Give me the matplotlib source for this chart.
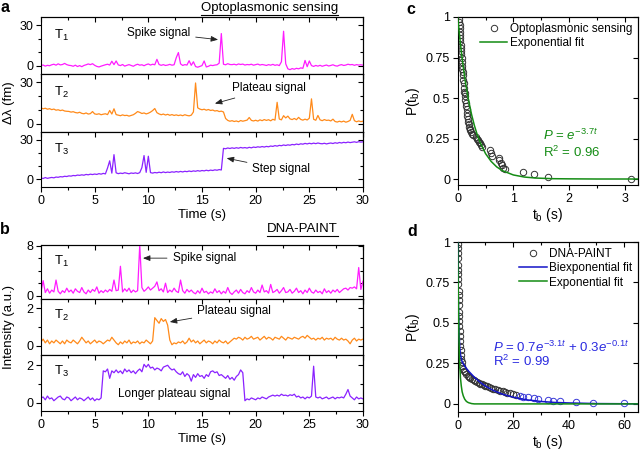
import numpy as np
import matplotlib
matplotlib.use("Agg")
import matplotlib.pyplot as plt
from matplotlib.lines import Line2D

plt.rcParams["font.family"] = ["Liberation Sans", "DejaVu Sans"]
plt.rcParams["mathtext.fontset"] = "custom"
plt.rcParams["mathtext.rm"] = "Liberation Sans"
plt.rcParams["mathtext.it"] = "Liberation Sans:italic"
plt.rcParams["mathtext.bf"] = "Liberation Sans:bold"
plt.rcParams["font.size"] = 9
plt.rcParams["axes.linewidth"] = 0.8

# time grid of the traces (s), 0.2 s steps
time = np.linspace(0, 30, 151)

# panel a: optoplasmonic traces, delta lambda (fm)
opto_t1 = [0.3, 0.6, -0.2, 0.4, 0.1, 0.8, 1.2, 0.5, 1.5, 0.7,
           1.0, 1.8, 0.9, 0.4, 0.2, -0.3, 0.5, -0.5, 0.2, -0.6,
           0.3, 0.8, 1.4, 0.9, 1.6, 0.4, -0.4, -0.8, -0.2, 0.3,
           0.8, 1.2, 0.6, 3.4, 0.9, 3.6, 0.7, 0.2, 1.0, -0.2,
           0.4, 0.9, 0.3, -0.3, 0.6, 1.2, 0.5, 0.8, 0.1, 0.9,
           1.4, 0.6, 1.2, 0.8, 4.8, 1.0, 0.4, 0.9, 0.3, 0.6,
           1.1, 0.5, 0.8, 6.0, 9.8, 1.5, 0.3, 0.9, 0.6, 3.8,
           0.4, 3.0, -0.5, -1.0, -0.4, 0.2, 3.6, -0.8, -0.3, 0.5,
           0.2, 0.6, 0.8, 2.0, 23.8, 1.2, 0.8, 1.6, 1.0, 0.9,
           1.2, 0.7, 1.4, 1.0, 1.3, 0.6, 1.0, 0.8, 1.2, 0.5,
           0.9, 1.3, 0.6, 1.0, 0.7, 0.3, 0.9, 0.5, 1.1, 0.4,
           0.8, 0.2, 3.0, 25.5, 1.5, -2.2, -2.8, -2.0, -2.5, -1.8,
           -2.2, -1.5, -1.8, 4.0, -0.6, 3.6, 0.2, -0.4, 0.3, -0.2,
           0.4, -0.3, 0.2, 0.6, -0.1, 0.3, 0.8, 0.1, -0.2, 0.5,
           0.9, 0.3, 0.6, 1.2, 0.8, 1.0, 0.4, 0.9, 0.6, 0.8, 0.5]
opto_t2 = [11.5, 10.8, 11.2, 10.5, 10.9, 10.2, 10.6, 9.8, 10.1, 9.5,
           9.9, 9.2, 9.0, 8.9, 8.4, 8.7, 8.1, 7.8, 8.3, 7.5,
           7.2, 7.8, 7.0, 7.3, 8.8, 7.1, 6.8, 7.2, 6.5, 6.9,
           7.2, 6.6, 9.6, 7.0, 10.8, 6.6, 6.2, 5.8, 6.4, 5.9,
           6.1, 5.5, 6.0, 6.5, 7.5, 8.8, 8.2, 7.4, 7.8, 7.1,
           7.6, 8.4, 9.5, 11.0, 8.0, 7.1, 6.5, 7.0, 6.3, 6.8,
           6.1, 6.6, 6.0, 6.4, 5.9, 6.3, 5.8, 6.5, 6.0, 5.7,
           6.2, 8.5, 29.5, 11.5, 10.6, 10.1, 10.5, 9.8, 10.3, 9.6,
           9.9, 9.2, 9.5, 8.8, 9.1, 8.5, 3.8, 2.4, 1.8, 2.2,
           1.6, 2.0, 1.4, 2.3, 1.8, 2.2, 2.6, 4.5, 2.4, 2.0,
           2.5, 1.9, 2.8, 2.2, 3.0, 2.4, 2.9, 2.1, 3.2, 2.6,
           15.5, 3.4, 2.8, 5.8, 4.2, 5.5, 3.5, 3.0, 3.8, 2.9,
           4.6, 3.1, 2.6, 3.3, 2.7, 4.0, 18.0, 3.2, 2.5, 6.0,
           2.8, 2.2, 3.0, 2.4, 2.6, 2.0, 3.3, 1.6, 1.2, 1.8,
           1.3, 1.9, 1.1, 1.6, 2.4, 6.8, 2.2, 1.4, 2.0, 1.5, 1.8]
opto_t3 = [0.8, 0.5, 1.2, 0.6, 1.0, 1.3, 1.0, 1.6, 1.4, 1.9,
           1.7, 2.2, 2.0, 2.5, 2.3, 2.8, 2.6, 3.1, 2.9, 3.3,
           3.0, 3.6, 3.3, 3.8, 3.5, 3.9, 3.6, 4.2, 3.8, 4.4,
           4.0, 8.5, 14.0, 4.6, 18.7, 4.8, 4.2, 4.6, 4.3, 4.9,
           4.5, 4.1, 4.7, 4.4, 4.8, 4.3, 5.0, 8.8, 18.0, 5.2,
           17.5, 5.0, 4.6, 5.1, 4.8, 5.3, 4.9, 5.5, 5.0, 5.4,
           5.1, 5.6, 5.3, 5.8, 5.4, 5.9, 5.5, 6.0, 5.7, 6.2,
           5.8, 6.3, 6.0, 6.5, 6.1, 6.6, 6.3, 6.8, 6.4, 6.9,
           6.6, 7.1, 6.8, 7.3, 7.0, 23.5, 23.2, 23.8, 23.4, 23.9,
           23.5, 24.0, 23.6, 24.2, 23.8, 24.1, 23.7, 24.3, 23.9, 24.5,
           24.2, 24.7, 24.4, 24.9, 24.5, 25.0, 24.7, 25.3, 25.0, 25.6,
           25.2, 25.8, 25.5, 26.1, 25.7, 26.2, 25.9, 26.5, 26.2, 26.8,
           26.4, 27.0, 26.7, 27.3, 26.9, 27.4, 27.0, 27.5, 27.1, 27.6,
           27.2, 27.0, 27.4, 26.9, 27.3, 27.6, 27.2, 27.8, 27.4, 28.0,
           27.6, 28.1, 27.8, 28.3, 27.9, 28.2, 28.5, 28.1, 28.6, 28.3, 28.5]

# panel b: DNA-PAINT traces, intensity (a.u.)
paint_t1 = [0.6, 2.4, 0.5, 1.1, 0.4, 0.9, 0.6, 2.5, 0.7, 0.3,
            0.8, 0.5, 1.2, 0.6, 0.9, 0.4, 1.1, 0.7, 0.5, 1.3,
            0.6, 0.3, 0.9, 0.5, 1.0, 0.7, 1.4, 0.4, 0.8, 0.5,
            0.9, 0.6, 1.0, 0.7, 2.5, 0.8, 0.9, 4.7, 0.6, 1.1,
            0.7, 1.2, 0.5, 0.9, 0.6, 0.8, 8.1, 1.3, 0.7, 1.0,
            1.4, 0.9, 1.2, 1.5, 2.2, 0.8, 1.1, 0.6, 2.0, 0.5,
            0.9, 0.6, 1.2, 0.7, 0.5, 2.5, 0.8, 0.4, 1.0, 0.6,
            0.9, 0.5, 0.3, 0.8, 0.4, 1.2, 0.5, 0.7, 0.3, 0.6,
            0.4, 1.1, 0.5, 0.8, 0.3, 0.7, 0.4, 1.3, 0.5, 0.2,
            0.6, 0.9, 0.4, 1.0, 0.5, 0.3, 0.8, 0.5, 1.3, 0.6,
            0.4, 0.9, 0.5, 1.7, 0.6, 0.8, 0.4, 1.8, 0.5, 0.7,
            1.0, 0.4, 0.8, 1.3, 0.5, 0.6, 1.0, 0.4, 0.7, 1.2,
            0.5, 0.8, 0.3, 0.9, 0.5, 1.2, 0.6, 0.4, 0.9, 0.5,
            0.7, 0.3, 1.1, 0.5, 0.8, 0.4, 0.9, 0.6, 1.0, 0.5,
            0.8, 1.1, 1.2, 0.9, 1.3, 1.2, 1.4, 1.1, 4.5, 1.0, 2.3]
paint_t2 = [0.2, 0.35, 0.15, 0.3, 0.1, 0.25, 0.15, 0.3, 0.2, 0.1,
            0.25, 0.1, 0.3, 0.2, 0.15, 0.3, 0.2, 0.1, 0.25, 0.45,
            0.3, 0.15, 0.25, 0.1, 0.2, 0.3, 0.15, 0.25, 0.2, 0.1,
            0.2, 0.3, 0.25, 0.45, 0.3, 0.15, 0.05, 0.2, 0.1, 0.25,
            0.15, 0.3, 0.1, 0.2, 0.15, 0.25, 0.1, 0.2, 0.15, 0.3,
            0.2, 0.1, 0.25, 1.5, 1.35, 1.2, 1.45, 1.3, 1.4, 1.1,
            0.3, 0.05, 0.15, 0.1, 0.2, 0.15, 0.25, 0.1, 0.2, 0.4,
            0.2, 0.3, 0.15, 0.25, 0.1, 0.2, 0.3, 0.15, 0.25, 0.2,
            0.1, 0.25, 0.15, 0.3, 0.2, 0.15, 0.25, 0.1, 0.2, 0.3,
            0.4, 0.35, 0.45, 0.4, 0.3, 0.45, 0.35, 0.4, 0.5, 0.35,
            0.4, 0.45, 0.3, 0.4, 0.5, 0.35, 0.45, 0.4, 0.3, 0.45,
            0.4, 0.35, 0.5, 0.4, 0.3, 0.45, 0.4, 0.35, 0.45, 0.4,
            0.35, 0.45, 0.5, 0.4, 0.55, 0.45, 0.35, 0.4, 0.3, 0.4,
            0.35, 0.45, 0.3, 0.4, 0.35, 0.4, 0.3, 0.45, 0.35, 0.3,
            0.4, 0.3, 0.35, 0.25, 0.1, 0.3, 0.4, 0.25, 0.35, 0.3, 0.35]
paint_t3 = [0.25, 0.3, 0.15, 0.35, 0.2, 0.25, 0.1, 0.2, 0.3, 0.35,
            0.2, 0.15, 0.3, 0.25, 0.1, 0.2, 0.3, 0.15, 0.25, 0.2,
            0.1, 0.2, 0.3, 0.15, 0.25, 0.1, 0.2, 0.15, 0.25, 1.7,
            1.65, 1.8, 1.3, 1.7, 1.6, 1.75, 1.6, 1.7, 1.55, 1.8,
            1.65, 1.75, 1.6, 1.7, 1.55, 1.7, 1.8, 1.65, 2.05, 1.9,
            2.05, 1.85, 1.9, 1.75, 1.85, 1.8, 1.7, 1.9, 1.95, 2.0,
            1.85, 1.75, 1.8, 1.65, 1.55, 1.5, 1.65, 1.4, 1.55, 1.45,
            1.15, 1.5, 1.35, 1.55, 1.4, 1.45, 1.3, 1.5, 1.4, 1.65,
            1.7, 1.6, 1.65, 1.45, 1.5, 1.4, 1.3, 1.45, 1.25, 1.35,
            1.2, 1.4, 1.5, 1.75, 1.6, 0.1, 0.2, 0.15, 0.25, 0.2,
            0.15, 0.25, 0.2, 0.3, 0.25, 0.2, 0.3, 0.35, 0.4, 0.35,
            0.4, 0.35, 0.45, 0.38, 0.4, 0.35, 0.42, 0.38, 0.45, 0.3,
            0.35, 0.25, 0.3, 0.2, 0.3, 0.25, 0.35, 1.95, 0.3, 0.25,
            0.3, 0.2, 0.25, 0.3, 0.2, 0.25, 0.3, 0.2, 0.28, 0.25,
            0.3, 0.25, 0.45, 0.7, 0.35, 0.25, 0.15, 0.3, 0.2, 0.25, 0.2]

# panel c: optoplasmonic binding-time survival
opto_tb = [0.03, 0.03, 0.035, 0.04, 0.04, 0.045, 0.05, 0.05, 0.055, 0.06,
           0.06, 0.065, 0.07, 0.075, 0.08, 0.085, 0.09, 0.095, 0.10, 0.105,
           0.11, 0.12, 0.13, 0.135, 0.14, 0.15, 0.155, 0.16, 0.17, 0.175,
           0.18, 0.19, 0.20, 0.21, 0.22, 0.23, 0.24, 0.26, 0.28, 0.32,
           0.34, 0.36, 0.38, 0.40, 0.42, 0.43, 0.58, 0.60, 0.62, 0.74,
           0.75, 0.77, 0.79, 0.82, 0.85, 1.17, 1.37, 1.62, 3.12]
opto_p = [0.99, 0.97, 0.95, 0.93, 0.91, 0.89, 0.87, 0.85, 0.83, 0.81,
          0.79, 0.77, 0.75, 0.72, 0.70, 0.68, 0.66, 0.64, 0.61, 0.59,
          0.56, 0.54, 0.53, 0.51, 0.49, 0.47, 0.45, 0.43, 0.41, 0.39,
          0.37, 0.35, 0.34, 0.32, 0.31, 0.30, 0.29, 0.28, 0.27, 0.26,
          0.25, 0.24, 0.23, 0.22, 0.21, 0.195, 0.18, 0.16, 0.145, 0.13,
          0.115, 0.10, 0.085, 0.07, 0.06, 0.045, 0.03, 0.015, 0.0]
opto_fit_t = [0, 0.025, 0.05, 0.075, 0.1, 0.125, 0.15, 0.2, 0.25, 0.3, 0.35, 0.4,
              0.5, 0.6, 0.7, 0.8, 1.0, 1.2, 1.4, 1.7, 2.0, 2.5, 3.25]
opto_fit_p = [1.0, 0.912, 0.831, 0.758, 0.691, 0.630, 0.574, 0.477, 0.397, 0.330, 0.274,
              0.228, 0.157, 0.109, 0.075, 0.052, 0.025, 0.012, 0.006, 0.002, 0.001, 0.0, 0.0]

# panel d: DNA-PAINT binding-time survival
paint_tb = [0.05, 0.08, 0.1, 0.12, 0.15, 0.18, 0.2, 0.23, 0.26, 0.3,
            0.33, 0.37, 0.4, 0.45, 0.5, 0.55, 0.6, 0.67, 0.75, 0.85,
            0.95, 1.05, 1.2, 1.35, 1.5, 1.7, 2.0, 2.3, 2.7, 3.1,
            3.6, 4.1, 4.6, 5.2, 5.8, 6.4, 7.0, 7.6, 8.2, 8.8,
            9.4, 10.0, 10.7, 11.4, 12.1, 12.8, 13.6, 14.4, 15.3, 16.2,
            17.0, 17.8, 18.8, 19.8, 21.0, 22.3, 23.7, 25.5, 27.4, 29.0,
            32.4, 34.3, 36.8, 42.8, 48.7, 59.8]
paint_p = [0.99, 0.96, 0.93, 0.90, 0.86, 0.83, 0.80, 0.77, 0.74, 0.70,
           0.67, 0.64, 0.61, 0.57, 0.54, 0.51, 0.48, 0.45, 0.42, 0.39,
           0.36, 0.33, 0.30, 0.28, 0.26, 0.235, 0.215, 0.205, 0.195, 0.185,
           0.175, 0.168, 0.16, 0.152, 0.145, 0.14, 0.135, 0.13, 0.126, 0.122,
           0.117, 0.113, 0.108, 0.103, 0.098, 0.094, 0.089, 0.085, 0.081, 0.077,
           0.073, 0.069, 0.065, 0.06, 0.055, 0.05, 0.045, 0.04, 0.034, 0.03,
           0.024, 0.02, 0.017, 0.012, 0.008, 0.003]
biexp_t = [0, 0.1, 0.2, 0.3, 0.5, 0.75, 1.0, 1.5, 2, 3, 4, 6, 8, 10, 13, 16,
           20, 25, 30, 35, 40, 50, 65]
biexp_p = [1.0, 0.810, 0.671, 0.567, 0.434, 0.346, 0.303, 0.265, 0.247, 0.222,
           0.201, 0.165, 0.135, 0.110, 0.082, 0.061, 0.041, 0.025, 0.015, 0.009,
           0.006, 0.002, 0.0005]
mono_t = [0, 0.2, 0.4, 0.6, 0.8, 1.0, 1.3, 1.6, 2.0, 2.5, 3.0, 3.5, 4.0, 5.0, 6.0, 65]
mono_p = [1.0, 0.68, 0.47, 0.30, 0.22, 0.16, 0.11, 0.075, 0.05, 0.03, 0.018,
          0.011, 0.007, 0.002, 0.0, 0.0]

prob_ticks = [0, 0.25, 0.5, 0.75, 1]
prob_labels = ["0", "0.25", "0.5", "0.75", "1"]

MAGENTA = "#ff1cff"
ORANGE = "#ff8a1a"
PURPLE = "#8a22ff"
GREEN = "#148c14"
BLUE = "#1414c8"
BLUE_TXT = "#2a2ae0"
W, H = 640, 451


def frame(ax, xmaj, xmin, ymaj, ymin, xlabels=True):
    ax.set_xticks(xmaj)
    ax.set_xticks(xmin, minor=True)
    ax.set_yticks(ymaj)
    ax.set_yticks(ymin, minor=True)
    ax.tick_params(which="both", direction="out", width=0.8, labelsize=9,
                   labelbottom=xlabels, pad=2)
    ax.tick_params(which="major", length=3.5)
    ax.tick_params(which="minor", length=2)
    top = ax.secondary_xaxis("top")
    top.set_xticks(xmaj)
    top.set_xticks(xmin, minor=True)
    top.tick_params(which="both", direction="in", labeltop=False, width=0.8)
    top.tick_params(which="major", length=3.5)
    top.tick_params(which="minor", length=2)
    right = ax.secondary_yaxis("right")
    right.set_yticks(ymaj)
    right.set_yticks(ymin, minor=True)
    right.tick_params(which="both", direction="in", labelright=False, width=0.8)
    right.tick_params(which="major", length=3.5)
    right.tick_params(which="minor", length=2)


def rect(x0, y0, x1, y1):
    return [x0 / W, 1 - y1 / H, (x1 - x0) / W, (y1 - y0) / H]


fig = plt.figure(figsize=(6.4, 4.51), dpi=100)

xt = [0, 5, 10, 15, 20, 25, 30]
xm = [2.5, 7.5, 12.5, 17.5, 22.5, 27.5]

# ---- panel a ----
a_rows = [(17, 74), (74, 132), (132, 187)]
a_data = [opto_t1, opto_t2, opto_t3]
a_cols = [MAGENTA, ORANGE, PURPLE]
a_axes = []
for i, (y0, y1) in enumerate(a_rows):
    ax = fig.add_axes(rect(41, y0, 363, y1))
    ax.plot(time, a_data[i], color=a_cols[i], lw=0.9)
    ax.set_xlim(0, 30)
    ax.set_ylim(-6, 36)
    frame(ax, xt, xm, [0, 30], [10, 20], xlabels=(i == 2))
    ax.text(0.04, 0.68, "T$_%d$" % (i + 1), transform=ax.transAxes,
            ha="left", va="center", fontsize=9.5)
    a_axes.append(ax)
a_axes[1].set_ylabel("Δλ (fm)", fontsize=9.5, labelpad=3)
a_axes[2].set_xlabel("Time (s)", fontsize=9.5, labelpad=2)

arr = dict(arrowstyle="-|>,head_length=0.5,head_width=0.2", color="#222222",
           lw=0.6, shrinkA=2, shrinkB=0)
a_axes[0].annotate("Spike signal", xy=(16.5, 19.3), xytext=(10.95, 24.3),
                   ha="center", va="center", fontsize=8.5, arrowprops=arr)
a_axes[1].annotate("Plateau signal", xy=(16.2, 14.6), xytext=(21.25, 25.5),
                   ha="center", va="center", fontsize=8.5, arrowprops=arr)
a_axes[2].annotate("Step signal", xy=(17.3, 16.0), xytext=(22.4, 7.4),
                   ha="center", va="center", fontsize=8.5, arrowprops=arr)

# ---- panel b ----
b_rows = [(245, 299), (299, 355), (355, 411)]
b_data = [paint_t1, paint_t2, paint_t3]
b_lims = [(-0.53, 8.1), (-0.5, 2.5), (-0.45, 2.55)]
b_maj = [[0, 8], [0, 2], [0, 2]]
b_min = [[2, 4, 6], [1], [1]]
b_axes = []
for i, (y0, y1) in enumerate(b_rows):
    ax = fig.add_axes(rect(41, y0, 363, y1))
    ax.plot(time, b_data[i], color=a_cols[i], lw=0.9)
    ax.set_xlim(0, 30)
    ax.set_ylim(*b_lims[i])
    frame(ax, xt, xm, b_maj[i], b_min[i], xlabels=(i == 2))
    ax.text(0.04, 0.70, "T$_%d$" % (i + 1), transform=ax.transAxes,
            ha="left", va="center", fontsize=9.5)
    b_axes.append(ax)
b_axes[1].set_ylabel("Intensity (a.u.)", fontsize=9.5, labelpad=8)
b_axes[2].set_xlabel("Time (s)", fontsize=9.5, labelpad=2)
b_axes[0].annotate("Spike signal", xy=(9.5, 6.0), xytext=(15.2, 6.0),
                   ha="center", va="center", fontsize=8.5, arrowprops=arr)
b_axes[1].annotate("Plateau signal", xy=(12.0, 1.27), xytext=(18.0, 1.86),
                   ha="center", va="center", fontsize=8.5, arrowprops=arr)
b_axes[2].text(12.4, 0.47, "Longer plateau signal", ha="center", va="center",
               fontsize=8.5)

# ---- panel c ----
axc = fig.add_axes(rect(457.7, 17, 638, 185))
axc.plot(opto_tb, opto_p, "o", mfc="none", mec="#333333", ms=4.6, mew=0.7,
         label="Optoplasmonic sensing", zorder=2)
axc.plot(opto_fit_t, opto_fit_p, color=GREEN, lw=1.1, label="Exponential fit", zorder=3)
axc.set_xlim(0, 3.24)
axc.set_ylim(-0.037, 1.0)
frame(axc, [0, 1, 2, 3], [0.5, 1.5, 2.5], prob_ticks, [])
axc.set_yticklabels(prob_labels)
axc.set_xlabel("t$_\\mathregular{b}$ (s)", fontsize=10, labelpad=1)
axc.set_ylabel("P(t$_\\mathregular{b}$)", fontsize=10, labelpad=3)
axc.legend(loc="upper right", frameon=False, fontsize=8.5, handlelength=2.3,
           handletextpad=0.2, labelspacing=0.15, borderaxespad=0.2, borderpad=0.3)
axc.text(1.53, 0.27, "$P$ = $e^{-3.7t}$", color=GREEN, fontsize=9.5, va="center")
axc.text(1.53, 0.165, "R$^2$ = 0.96", color=GREEN, fontsize=9.5, va="center")

# ---- panel d ----
axd = fig.add_axes(rect(457.7, 242, 638, 412))
tb = np.array(paint_tb)
pp = np.array(paint_p)
early = tb <= 22
axd.plot(tb[early], pp[early], "o", mfc="none", mec="#333333", ms=4.6, mew=0.7,
         label="DNA-PAINT", zorder=2)
axd.plot(tb[~early], pp[~early], "o", mfc="none", mec="#3a3ad8", ms=4.6, mew=0.7,
         zorder=2)
axd.plot(biexp_t, biexp_p, color=BLUE, lw=1.1, label="Biexponential fit", zorder=3)
axd.plot(mono_t, mono_p, color=GREEN, lw=1.1, label="Exponential fit", zorder=3)
axd.set_xlim(0, 65)
axd.set_ylim(-0.05, 1.0)
frame(axd, [0, 20, 40, 60], [10, 30, 50], prob_ticks, [])
axd.set_yticklabels(prob_labels)
axd.set_xlabel("t$_\\mathregular{b}$ (s)", fontsize=10, labelpad=1)
axd.set_ylabel("P(t$_\\mathregular{b}$)", fontsize=10, labelpad=3)
axd.legend(loc="upper right", frameon=False, fontsize=8.5, handlelength=2.3,
           handletextpad=0.2, labelspacing=0.2, borderaxespad=0.2, borderpad=0.3)
axd.text(12.7, 0.35, "$P$ = 0.7$e^{-3.1t}$ + 0.3$e^{-0.1t}$", color=BLUE_TXT,
         fontsize=9.5, va="center")
axd.text(12.7, 0.26, "R$^2$ = 0.99", color=BLUE_TXT, fontsize=9.5, va="center")

# ---- panel letters and titles ----
for lab, x, y in [("a", 5, 8), ("b", 5, 229), ("c", 411, 10), ("d", 412, 232)]:
    fig.text(x / W, 1 - y / H, lab, fontsize=11.5, fontweight="bold",
             ha="center", va="center")

titles = []
for txt, y in [("Optoplasmonic sensing", 8), ("DNA-PAINT", 229)]:
    titles.append(fig.text(338 / W, 1 - y / H, txt, fontsize=9.5,
                           ha="right", va="center"))
fig.canvas.draw()
inv = fig.transFigure.inverted()
for t in titles:
    bb = t.get_window_extent().transformed(inv)
    fig.add_artist(Line2D([bb.x0, bb.x1], [bb.y0 - 0.002, bb.y0 - 0.002],
                          transform=fig.transFigure, color="black", lw=0.8))

fig.savefig("out.png", dpi=100)
